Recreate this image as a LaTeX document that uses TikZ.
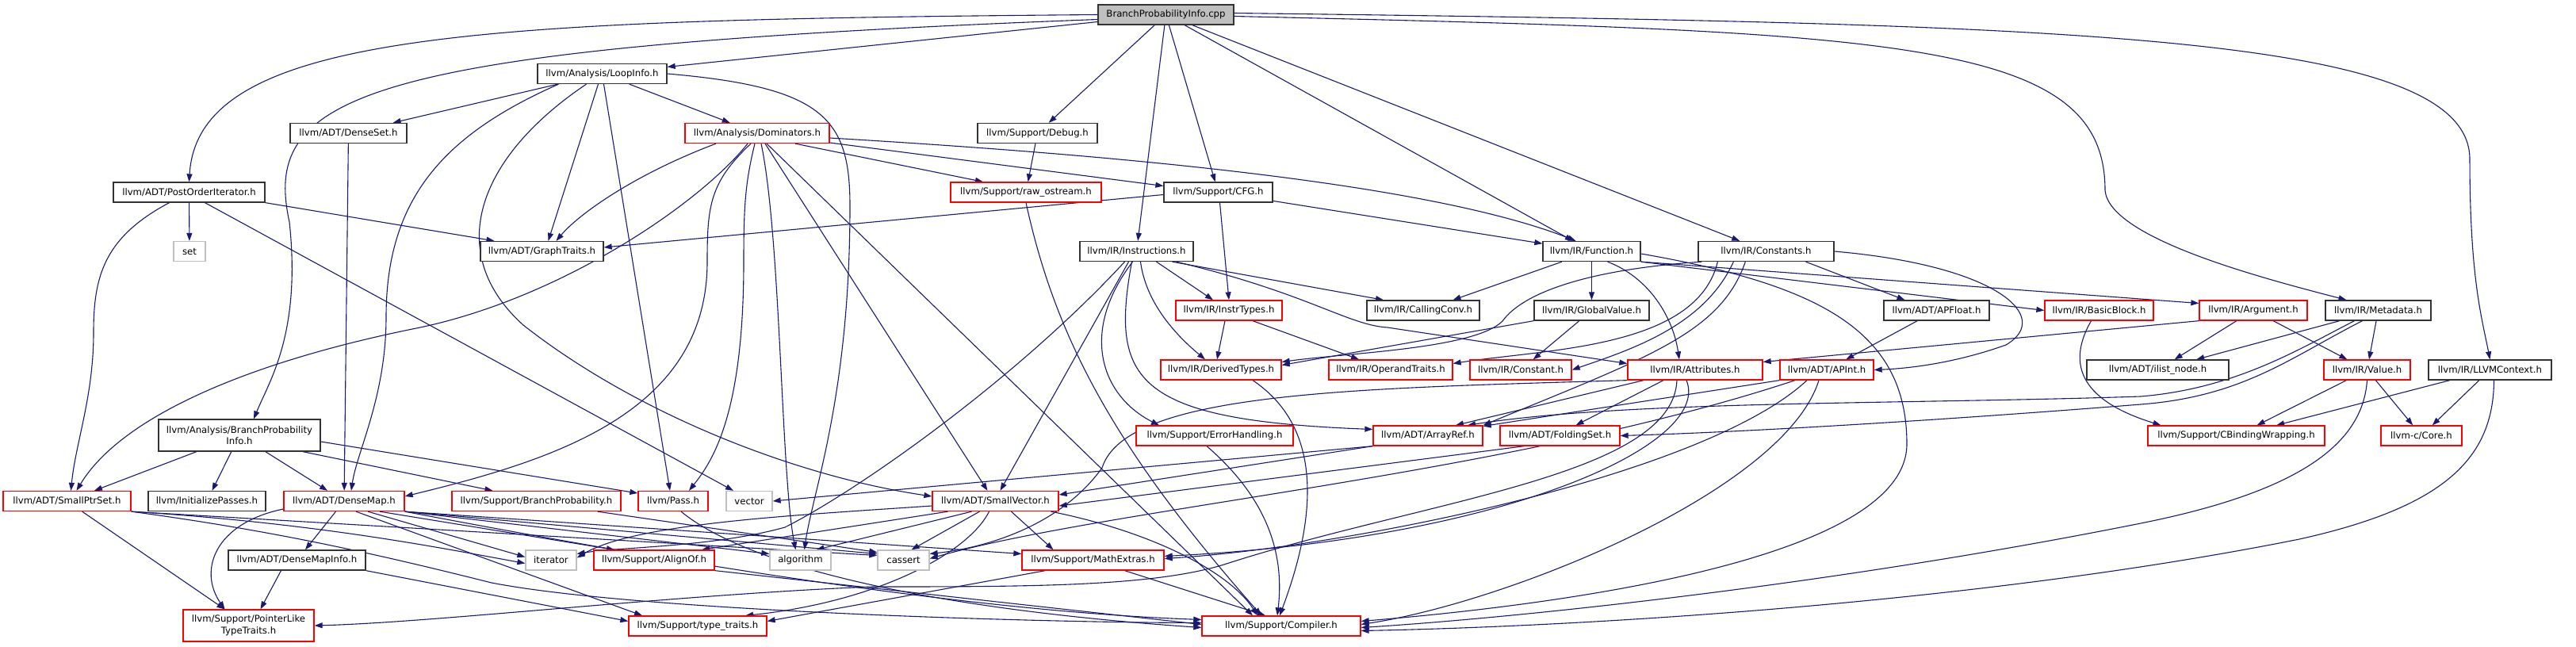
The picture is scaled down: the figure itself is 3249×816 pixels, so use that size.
\documentclass[tikz,border=0pt]{standalone}
\usepackage{fontspec}
\setmainfont{DejaVu Sans}
\usepackage{tikz}
\usetikzlibrary{arrows.meta}

\definecolor{depblue}{HTML}{191970}
\definecolor{boxgrey}{HTML}{BFBFBF}

\pgfdeclarelayer{edges}
\pgfsetlayers{edges,main}

\tikzset{
	hdr/.style={draw=black!80, line width=1.3pt, fill=white, minimum height=25pt, inner xsep=3pt, inner ysep=0pt, font=\fontsize{11.7pt}{14.5pt}\selectfont},
	redhdr/.style={hdr, draw=red},
	syshdr/.style={hdr, draw=boxgrey},
	roothdr/.style={hdr, fill=boxgrey},
	twoline/.style={align=center, minimum height=40pt},
	dep/.style={draw=depblue, line width=1.1pt, ->},
	>={Triangle[length=10pt, width=7pt]},
}

\begin{document}
\begin{tikzpicture}[x=1pt, y=-1pt]
			\useasboundingbox (0, 0) rectangle (3249, 816);

			\node [roothdr, minimum width=171pt] (root) at (1470.5, 18.5) {BranchProbabilityInfo.cpp};

			\node [hdr, minimum width=163pt] (loopinfo) at (759.5, 93) {llvm/Analysis/LoopInfo.h};

			\node [hdr, minimum width=147pt] (denseset) at (439.5, 168) {llvm/ADT/DenseSet.h};
			\node [redhdr, minimum width=182pt] (dominators) at (955, 168) {llvm/Analysis/Dominators.h};
			\node [hdr, minimum width=151pt] (debug) at (1308.5, 168) {llvm/Support/Debug.h};

			\node [hdr, minimum width=191pt] (postorder) at (238.5, 242.5) {llvm/ADT/PostOrderIterator.h};
			\node [redhdr, minimum width=190pt] (rawostream) at (1294, 242.5) {llvm/Support/raw\_ostream.h};
			\node [hdr, minimum width=137pt] (cfg) at (1536.5, 242.5) {llvm/Support/CFG.h};

			\node [syshdr, minimum width=40pt] (set) at (239, 317) {set};
			\node [hdr, minimum width=155pt] (graphtraits) at (683.5, 317) {llvm/ADT/GraphTraits.h};
			\node [hdr, minimum width=143pt] (instructions) at (1433.5, 317) {llvm/IR/Instructions.h};
			\node [hdr, minimum width=123pt] (function) at (2007.5, 317) {llvm/IR/Function.h};
			\node [hdr, minimum width=171pt] (constants) at (2227.5, 317) {llvm/IR/Constants.h};

			\node [redhdr, minimum width=134pt] (instrtypes) at (1550, 391.5) {llvm/IR/InstrTypes.h};
			\node [hdr, minimum width=142pt] (callingconv) at (1795, 391.5) {llvm/IR/CallingConv.h};
			\node [hdr, minimum width=145pt] (globalvalue) at (2007.5, 391.5) {llvm/IR/GlobalValue.h};
			\node [hdr, minimum width=133pt] (apfloat) at (2442.5, 391.5) {llvm/ADT/APFloat.h};
			\node [redhdr, minimum width=137pt] (basicblock) at (2647.5, 391.5) {llvm/IR/BasicBlock.h};
			\node [redhdr, minimum width=136pt] (argument) at (2842, 391.5) {llvm/IR/Argument.h};
			\node [hdr, minimum width=133pt] (metadata) at (2999.5, 391.5) {llvm/IR/Metadata.h};

			\node [redhdr, minimum width=152pt] (derivedtypes) at (1540, 466.5) {llvm/IR/DerivedTypes.h};
			\node [redhdr, minimum width=156pt] (operandtraits) at (1754, 466.5) {llvm/IR/OperandTraits.h};
			\node [redhdr, minimum width=128pt] (constant) at (1918, 466.5) {llvm/IR/Constant.h};
			\node [redhdr, minimum width=170pt] (attributes) at (2138, 466.5) {llvm/IR/Attributes.h};
			\node [redhdr, minimum width=118pt] (apint) at (2304, 466.5) {llvm/ADT/APInt.h};
			\node [hdr, minimum width=179pt] (ilistnode) at (2721.5, 466.5) {llvm/ADT/ilist\_node.h};
			\node [redhdr, minimum width=109pt] (value) at (2985.5, 466.5) {llvm/IR/Value.h};
			\node [hdr, minimum width=155pt] (llvmcontext) at (3140.5, 466.5) {llvm/IR/LLVMContext.h};

			\node [hdr, twoline, minimum width=204pt] (bpih) at (302, 549) {llvm/Analysis/BranchProbability\\Info.h};
			\node [redhdr, minimum width=198pt] (errorhandling) at (1532, 549.5) {llvm/Support/ErrorHandling.h};
			\node [redhdr, minimum width=138pt] (arrayref) at (1801, 549.5) {llvm/ADT/ArrayRef.h};
			\node [redhdr, minimum width=151pt] (foldingset) at (1967.5, 549.5) {llvm/ADT/FoldingSet.h};
			\node [redhdr, minimum width=223pt] (cbinding) at (2820.5, 549.5) {llvm/Support/CBindingWrapping.h};
			\node [redhdr, minimum width=102pt] (core) at (3054, 549.5) {llvm-c/Core.h};

			\node [redhdr, minimum width=161pt] (smallptrset) at (84.5, 632) {llvm/ADT/SmallPtrSet.h};
			\node [hdr, minimum width=148pt] (initpasses) at (261, 632) {llvm/InitializePasses.h};
			\node [redhdr, minimum width=152pt] (densemap) at (434, 632) {llvm/ADT/DenseMap.h};
			\node [redhdr, minimum width=213pt] (branchprob) at (676.5, 632) {llvm/Support/BranchProbability.h};
			\node [redhdr, minimum width=88pt] (pass) at (849, 632) {llvm/Pass.h};
			\node [syshdr, minimum width=58pt] (vector) at (945, 632) {vector};
			\node [redhdr, minimum width=159pt] (smallvector) at (1255.5, 632) {llvm/ADT/SmallVector.h};

			\node [hdr, minimum width=173pt] (densemapinfo) at (374.5, 706.5) {llvm/ADT/DenseMapInfo.h};
			\node [syshdr, minimum width=64pt] (iterator) at (695, 706.5) {iterator};
			\node [redhdr, minimum width=152pt] (alignof) at (825, 706.5) {llvm/Support/AlignOf.h};
			\node [syshdr, minimum width=77pt] (algorithm) at (1009.5, 706.5) {algorithm};
			\node [syshdr, minimum width=65pt] (cassert) at (1139.5, 706.5) {cassert};
			\node [redhdr, minimum width=179pt] (mathextras) at (1378.5, 706.5) {llvm/Support/MathExtras.h};

			\node [redhdr, twoline, minimum width=165pt] (pltt) at (313.5, 789) {llvm/Support/PointerLike\\TypeTraits.h};
			\node [redhdr, minimum width=174pt] (typetraits) at (880, 789.5) {llvm/Support/type\_traits.h};
			\node [redhdr, minimum width=200pt] (compiler) at (1616, 789.5) {llvm/Support/Compiler.h};

			\begin{pgfonlayer}{edges}
			\draw [dep] (root.west) .. controls (600, 25) and (250, 40) .. (postorder.north);
			\draw [dep] (root) -- (loopinfo);
			\draw [dep] ([yshift=-6pt]root.west) .. controls (450, 60) and (330, 120) .. (365, 280) .. controls (380, 420) and (340, 480) .. ([xshift=18pt]bpih.north);
			\draw [dep] (root) -- (debug);
			\draw [dep] (root) -- (instructions);
			\draw [dep] (root) -- (cfg);
			\draw [dep] (root) -- (function);
			\draw [dep] (root) -- (constants);
			\draw [dep] ([yshift=-2pt]root.east) .. controls (2400, 40) and (2655, 50) .. (2655, 240) .. controls (2660, 300) and (2850, 350) .. ([xshift=-40pt]metadata.north);
			\draw [dep] ([yshift=2pt]root.east) .. controls (2600, 30) and (3113, 40) .. (3115, 200) .. controls (3115, 350) and (3130, 400) .. (llvmcontext.north);

			\draw [dep] (loopinfo) -- (denseset);
			\draw [dep] (loopinfo) -- (dominators);
			\draw [dep] ([xshift=-5pt]loopinfo.south) -- ([xshift=8pt]graphtraits.north);
			\draw [dep] ([xshift=2pt]loopinfo.south) -- ([xshift=-4pt]pass.north);
			\draw [dep] (loopinfo.east) .. controls (1040, 110) and (1072, 150) .. (1072, 260) .. controls (1072, 500) and (1025, 620) .. ([xshift=5pt]algorithm.north);
			\draw [dep] ([xshift=-55pt]loopinfo.south) .. controls (560, 170) and (487, 250) .. (487, 400) .. controls (487, 500) and (450, 570) .. ([xshift=9pt]densemap.north);
			\draw [dep] ([xshift=-20pt]loopinfo.south) .. controls (600, 200) and (560, 320) .. (660, 410) .. controls (800, 520) and (1000, 600) .. ([yshift=6pt]smallvector.west);
			\draw [dep] (denseset) -- (densemap);

			\draw [dep] ([xshift=-52pt]dominators.south) .. controls (800, 220) and (730, 270) .. ([xshift=18pt]graphtraits.north);
			\draw [dep] ([xshift=-12pt]dominators.south) .. controls (880, 260) and (700, 380) .. (520, 415) .. controls (300, 460) and (150, 530) .. ([xshift=12pt]smallptrset.north);
			\draw [dep] ([xshift=-8pt]dominators.south) .. controls (895, 230) and (892, 260) .. (892, 330) .. controls (892, 520) and (700, 580) .. ([yshift=6pt]densemap.east);
			\draw [dep] ([xshift=-3pt]dominators.south) .. controls (940, 230) and (938, 260) .. (938, 330) .. controls (938, 520) and (900, 580) .. ([xshift=20pt]pass.north);
			\draw [dep] ([xshift=5pt]dominators.south) .. controls (985, 300) and (985, 600) .. ([xshift=-6pt]algorithm.north);
			\draw [dep] ([xshift=10pt]dominators.south) -- ([xshift=-10pt]smallvector.north);
			\draw [dep] ([xshift=12pt]dominators.south) -- ([xshift=-36pt]compiler.north);
			\draw [dep] ([yshift=-6pt]dominators.east) .. controls (1400, 195) and (1800, 230) .. ([xshift=-20pt]function.north);
			\draw [dep] ([yshift=-12pt]dominators.east) -- ([yshift=8pt]cfg.west);
			\draw [dep] ([xshift=48pt]dominators.south) -- ([xshift=-54pt]rawostream.north);

			\draw [dep] (debug) -- (rawostream);
			\draw [dep] (rawostream.south) .. controls (1330, 420) and (1400, 560) .. ([xshift=-25pt]compiler.north);

			\draw [dep] (postorder) -- (set);
			\draw [dep] (postorder.south east) -- ([xshift=-60pt]graphtraits.north);
			\draw [dep] ([xshift=-25pt]postorder.south) .. controls (130, 300) and (118, 350) .. (118, 420) .. controls (118, 500) and (95, 560) .. ([xshift=5pt]smallptrset.north);
			\draw [dep] ([xshift=20pt]postorder.south) -- ([xshift=-20pt]vector.north);

			\draw [dep] ([yshift=-3pt]cfg.west) -- ([yshift=5pt]graphtraits.east);
			\draw [dep] (cfg) -- (function);
			\draw [dep] ([xshift=2pt]cfg.south) -- (instrtypes.north);

			\draw [dep] ([xshift=-15pt]instructions.south) .. controls (1280, 480) and (1080, 620) .. (990, 665) .. controls (900, 690) and (780, 690) .. ([yshift=8pt]iterator.east);
			\draw [dep] ([xshift=-10pt]instructions.south) -- ([xshift=6pt]smallvector.north);
			\draw [dep] ([xshift=-5pt]instructions.south) .. controls (1360, 420) and (1390, 500) .. ([xshift=-70pt]errorhandling.north);
			\draw [dep] ([xshift=-6pt]instructions.south) .. controls (1400, 480) and (1430, 530) .. ([yshift=8pt]arrayref.west);
			\draw [dep] ([xshift=5pt]instructions.south) .. controls (1445, 380) and (1480, 420) .. ([xshift=-20pt]derivedtypes.north);
			\draw [dep] ([xshift=25pt]instructions.south) -- ([xshift=-20pt]instrtypes.north);
			\draw [dep] ([xshift=45pt]instructions.south) -- ([xshift=-50pt]callingconv.north);
			\draw [dep] ([xshift=50pt]instructions.south) .. controls (1650, 370) and (1700, 410) .. (1750, 413) -- ([yshift=8pt]attributes.west);

			\draw [dep] ([xshift=-5pt]instrtypes.south) -- ([xshift=-5pt]derivedtypes.north);
			\draw [dep] ([xshift=30pt]instrtypes.south) -- ([xshift=-40pt]operandtraits.north);

			\draw [dep] (function) -- (callingconv);
			\draw [dep] (function) -- (globalvalue);
			\draw [dep] ([xshift=20pt]function.south) .. controls (2080, 350) and (2110, 400) .. ([xshift=-20pt]attributes.north);
			\draw [dep] (function.south east) -- (basicblock.west);
			\draw [dep] (function.south east) -- ([yshift=9pt]argument.west);
			\draw [dep] ([yshift=-3pt]function.east) .. controls (2300, 360) and (2405, 420) .. (2405, 560) .. controls (2405, 700) and (2000, 760) .. ([yshift=6pt]compiler.east);

			\draw [dep] ([xshift=50pt]constants.south) -- ([xshift=-40pt]apfloat.north);
			\draw [dep] (constants.east) .. controls (2520, 335) and (2590, 400) .. (2530, 435) .. controls (2460, 460) and (2400, 465) .. (apint.east);
			\draw [dep] ([xshift=60pt]constants.south west) .. controls (2170, 420) and (2080, 450) .. (arrayref.north east);
			\draw [dep] ([xshift=45pt]constants.south west) .. controls (2150, 410) and (2060, 440) .. (constant.east);
			\draw [dep] ([xshift=25pt]constants.south west) .. controls (2140, 440) and (1950, 440) .. ([yshift=8pt]operandtraits.east);
			\draw [dep] ([xshift=5pt]constants.south west) .. controls (2000, 340) and (1920, 370) .. (1895, 405) .. controls (1860, 440) and (1700, 445) .. ([yshift=10pt]derivedtypes.east);

			\draw [dep] (globalvalue) -- (constant);
			\draw [dep] (globalvalue.south west) -- ([yshift=6pt]derivedtypes.east);

			\draw [dep] (apfloat) -- (apint);
			\draw [dep] (apint.south west) -- ([yshift=12pt]arrayref.east);
			\draw [dep] ([xshift=-10pt]apint.south) .. controls (2250, 620) and (1900, 760) .. ([yshift=2pt]compiler.east);
			\draw [dep] ([xshift=-25pt]apint.south) .. controls (2150, 600) and (1700, 690) .. ([yshift=2pt]mathextras.east);
			\draw [dep] ([xshift=-40pt]apint.south) .. controls (1900, 600) and (1400, 640) .. ([yshift=2pt]cassert.east);

			\draw [dep] ([xshift=-65pt]attributes.south) -- ([xshift=35pt]arrayref.north);
			\draw [dep] ([xshift=-40pt]attributes.south) -- ([xshift=20pt]foldingset.north);
			\draw [dep] ([xshift=-23pt]attributes.south) .. controls (2110, 600) and (1800, 630) .. (1550, 710) .. controls (1460, 740) and (1300, 740) .. (1100, 740) .. controls (850, 750) and (550, 785) .. (pltt.east);
			\draw [dep] (attributes.south west) .. controls (1700, 490) and (1420, 495) .. (1390, 590) .. controls (1340, 660) and (1250, 690) .. ([yshift=8pt]cassert.east);
			\draw [dep] ([xshift=-11pt]attributes.south) .. controls (2160, 560) and (1900, 680) .. ([yshift=5pt]mathextras.east);

			\draw [dep] (argument.south west) -- ([yshift=10pt]attributes.east);
			\draw [dep] (argument) -- (ilistnode);
			\draw [dep] (argument) -- (value);

			\draw [dep] (metadata) -- (ilistnode);
			\draw [dep] (metadata) -- (value);
			\draw [dep] ([xshift=-30pt]metadata.south) .. controls (2900, 440) and (2820, 490) .. (2700, 500) .. controls (2400, 510) and (2050, 505) .. ([xshift=50pt]arrayref.north);
			\draw [dep] ([xshift=-20pt]metadata.south) .. controls (2890, 450) and (2830, 500) .. (2700, 510) .. controls (2450, 530) and (2200, 545) .. (foldingset.east);

			\draw [dep] ([xshift=-10pt]basicblock.south) .. controls (2600, 470) and (2640, 510) .. ([xshift=-95pt]cbinding.north);
			\draw [dep] (value) -- (cbinding);
			\draw [dep] (value) -- (core);
			\draw [dep] (value.south) .. controls (2980, 560) and (2900, 620) .. (2700, 660) .. controls (2300, 740) and (1900, 780) .. ([yshift=-2pt]compiler.east);
			\draw [dep] (llvmcontext) -- (cbinding);
			\draw [dep] (llvmcontext) -- (core);
			\draw [dep] ([xshift=5pt]llvmcontext.south) .. controls (3145, 580) and (3080, 640) .. (2900, 680) .. controls (2500, 760) and (2000, 790) .. ([yshift=-6pt]compiler.east);

			\draw [dep] (arrayref.south west) -- ([yshift=8pt]smallvector.east);
			\draw [dep] (arrayref.south west) -- (vector.east);
			\draw [dep] ([xshift=-45pt]foldingset.south) -- ([yshift=-6pt]smallvector.east);

			\draw [dep] (bpih) -- (smallptrset);
			\draw [dep] (bpih) -- (initpasses);
			\draw [dep] (bpih) -- (densemap);
			\draw [dep] ([xshift=80pt]bpih.south) -- ([xshift=-55pt]branchprob.north);
			\draw [dep] ([yshift=-8pt]bpih.east) -- ([yshift=10pt]pass.west);

			\draw [dep] (smallptrset) -- (pltt);
			\draw [dep] (smallptrset.south east) .. controls (400, 660) and (550, 690) .. ([yshift=-4pt]iterator.west);
			\draw [dep] (smallptrset.south east) -- ([yshift=6pt]cassert.west);
			\draw [dep] (smallptrset.south east) .. controls (350, 670) and (480, 700) .. (620, 735) .. controls (800, 770) and (1300, 785) .. ([yshift=4pt]compiler.west);

			\draw [dep] ([yshift=-10pt]densemap.west) .. controls (270, 660) and (250, 720) .. ([xshift=-30pt]pltt.north);
			\draw [dep] (densemap) -- (densemapinfo);
			\draw [dep] ([xshift=15pt]densemap.south) -- ([xshift=-70pt]typetraits.north);
			\draw [dep] ([xshift=30pt]densemap.south) -- ([yshift=4pt]iterator.west);
			\draw [dep] ([xshift=45pt]densemap.south) -- ([xshift=-50pt]alignof.north);
			\draw [dep] (densemap.south east) -- ([yshift=8pt]algorithm.west);
			\draw [dep] (densemap.south east) -- ([yshift=8pt]cassert.west);
			\draw [dep] (densemap.south east) -- ([yshift=8pt]mathextras.west);
			\draw [dep] (densemap.south east) .. controls (800, 700) and (1200, 770) .. ([yshift=8pt]compiler.west);

			\draw [dep] ([xshift=-20pt]densemapinfo.south) -- ([xshift=15pt]pltt.north);
			\draw [dep] (densemapinfo.south east) -- ([yshift=6pt]typetraits.west);

			\draw [dep] ([yshift=-6pt]smallvector.west) .. controls (1000, 650) and (800, 660) .. ([yshift=3pt]iterator.east);
			\draw [dep] ([xshift=-60pt]smallvector.south) -- ([xshift=60pt]alignof.north);
			\draw [dep] ([xshift=-30pt]smallvector.south) -- ([xshift=20pt]algorithm.north);
			\draw [dep] ([xshift=-20pt]smallvector.south) -- ([xshift=10pt]cassert.north);
			\draw [dep] ([xshift=-8pt]smallvector.south) .. controls (1220, 700) and (1100, 760) .. ([xshift=60pt]typetraits.north);
			\draw [dep] ([xshift=20pt]smallvector.south) -- ([xshift=-50pt]mathextras.north);
			\draw [dep] ([xshift=70pt]smallvector.south) .. controls (1450, 670) and (1550, 720) .. ([xshift=-30pt]compiler.north);

			\draw [dep] ([xshift=40pt]mathextras.south) -- ([xshift=-20pt]compiler.north);
			\draw [dep] ([xshift=-60pt]mathextras.south) -- ([yshift=6pt]typetraits.east);
			\draw [dep] (alignof.south east) -- ([yshift=2pt]compiler.west);
			\draw [dep] ([xshift=-10pt]errorhandling.south) .. controls (1600, 630) and (1620, 700) .. ([xshift=-5pt]compiler.north);
			\draw [dep] ([xshift=40pt]derivedtypes.south) .. controls (1640, 520) and (1680, 600) .. ([xshift=-2pt]compiler.north);
			\draw [dep] ([xshift=10pt]pass.south) .. controls (950, 720) and (1200, 770) .. ([yshift=-2pt]compiler.west);
			\draw [dep] ([xshift=-30pt]branchprob.south east) -- ([yshift=10pt]cassert.west);
			\end{pgfonlayer}
		\end{tikzpicture}
\end{document}
